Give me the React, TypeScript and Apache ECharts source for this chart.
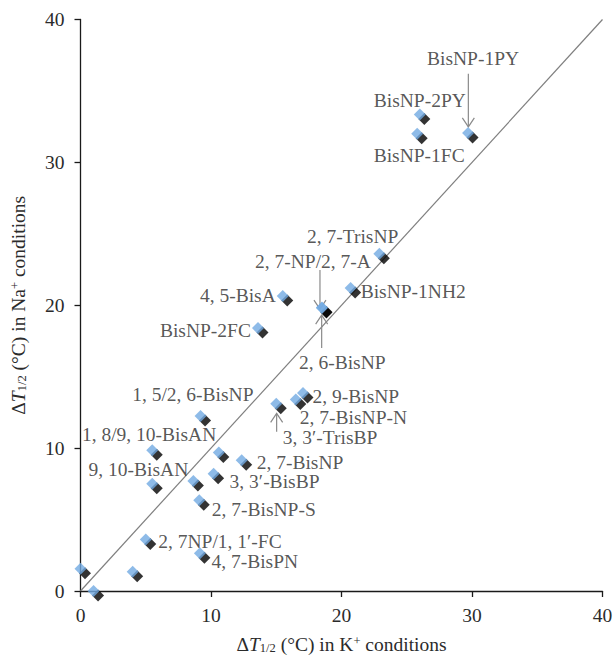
import React, { useEffect, useRef } from "react";
import * as echarts from "echarts";

// ΔT1/2 (°C) in K+ conditions (x) vs in Na+ conditions (y)
const names: string[] = [
  "BisNP-1PY", "BisNP-2PY", "BisNP-1FC", "2, 7-TrisNP", "2, 7-NP/2, 7-A", "2, 6-BisNP",
  "BisNP-1NH2", "4, 5-BisA", "BisNP-2FC", "1, 5/2, 6-BisNP", "1, 8/9, 10-BisAN", "9, 10-BisAN",
  "2, 7-BisNP", "3, 3\u2032-BisBP", "2, 7-BisNP-S", "2, 7NP/1, 1\u2032-FC", "4, 7-BisPN",
  "2, 9-BisNP", "2, 7-BisNP-N", "3, 3\u2032-TrisBP", "", "", "", "", "",
];
const kValues: number[] = [
  29.7, 26.0, 25.8, 22.9, 18.5, 18.5,
  20.7, 15.5, 13.6, 9.2, 5.5, 5.5,
  12.35, 10.2, 9.1, 5.0, 9.15,
  17.05, 16.5, 15.0, 10.6, 8.65, 0.0, 1.0, 4.0,
];
const naValues: number[] = [
  32.05, 33.35, 32.0, 23.6, 19.85, 19.8,
  21.2, 20.65, 18.4, 12.25, 9.85, 7.5,
  9.15, 8.2, 6.35, 3.6, 2.65,
  13.85, 13.4, 13.1, 9.7, 7.7, 1.55, 0.0, 1.35,
];

// label placement: [align, dx, dy] in px relative to the marker centre
const labelPlacement: Record<string, [string, number, number]> = {
  "BisNP-1PY": ["center", 5, -75],
  "BisNP-2PY": ["center", 0, -14],
  "BisNP-1FC": ["center", 2, 22],
  "2, 7-TrisNP": ["right", 19, -17],
  "2, 7-NP/2, 7-A": ["right", 49, -46],
  "2, 6-BisNP": ["left", -23, 54],
  "BisNP-1NH2": ["left", 10, 3],
  "4, 5-BisA": ["right", -7, 0],
  "BisNP-2FC": ["right", -7, 2],
  "1, 5/2, 6-BisNP": ["right", 53, -21],
  "1, 8/9, 10-BisAN": ["right", 64, -16],
  "9, 10-BisAN": ["right", 36, -14],
  "2, 7-BisNP": ["left", 15, 2],
  "3, 3\u2032-BisBP": ["left", 16, 8],
  "2, 7-BisNP-S": ["left", 12.5, 9],
  "2, 7NP/1, 1\u2032-FC": ["left", 12.5, 2],
  "4, 7-BisPN": ["left", 11.5, 8],
  "2, 9-BisNP": ["left", 9.5, 3.5],
  "2, 7-BisNP-N": ["left", 4, 18],
  "3, 3\u2032-TrisBP": ["left", 6.5, 34],
};

// annotation arrows: x, from y, to y (data units)
const arrowX: number[] = [29.72, 18.35, 18.48, 15.03];
const arrowFrom: number[] = [36.2, 22.46, 17.0, 11.15];
const arrowTo: number[] = [32.49, 19.73, 19.31, 12.43];

const xTicks: number[] = [0, 10, 20, 30, 40];
const diagonal: number[][] = [[0, 0], [40, 40]];

const FONT = "Liberation Serif, Times New Roman, serif";
const TXT = "#2b2b2b";

export default function App() {
  const ref = useRef<HTMLDivElement>(null);
  useEffect(() => {
    if (!ref.current) return;
    const chart = echarts.init(ref.current, undefined, { renderer: "svg" });
    const points = kValues.map((x, i) => [x, naValues[i]]);
    const blueData = points.map((p, i) => {
      const nm = names[i];
      const pl = labelPlacement[nm];
      return {
        value: p,
        name: nm,
        label: pl
          ? {
              show: true,
              formatter: nm,
              position: "inside",
              align: pl[0],
              verticalAlign: "middle",
              offset: [pl[1], pl[2]],
              color: TXT,
              fontFamily: FONT,
              fontSize: 19.5,
              lineHeight: 16,
            }
          : { show: false },
      };
    });
    const arrows = arrowX.map((x, i) => [x, arrowFrom[i], arrowTo[i]]);
    const axisName = "\u0394{i|T}{sub|1/2} (\u00b0C) in ";
    const rich = {
      i: { fontStyle: "italic", fontFamily: FONT, fontSize: 19.5, color: TXT, lineHeight: 20 },
      sub: { fontFamily: FONT, fontSize: 12.5, color: TXT, verticalAlign: "bottom", lineHeight: 20 },
      sup: { fontFamily: FONT, fontSize: 12.5, color: TXT, verticalAlign: "top", lineHeight: 20 },
    };
    const axisCommon = {
      type: "value",
      min: 0,
      max: 40,
      interval: 10,
      axisLine: { show: true, onZero: false, lineStyle: { color: "#1a1a1a", width: 1.3 } },
      axisTick: { show: true, length: 6, lineStyle: { color: "#1a1a1a", width: 1.3 } },
      splitLine: { show: false },
      axisLabel: { color: TXT, fontSize: 19.5, fontFamily: FONT },
      nameLocation: "middle",
      nameTextStyle: { fontFamily: FONT, fontSize: 19.5, color: TXT, lineHeight: 20, rich },
    };
    chart.setOption({
      animation: false,
      grid: { left: 80.5, right: 10.5, top: 19.5, bottom: 66, outerBoundsMode: "none", containLabel: false },
      xAxis: {
        ...axisCommon,
        axisLabel: { ...axisCommon.axisLabel, margin: 14, customValues: xTicks },
        name: axisName + "K{sup|+} conditions",
        nameGap: 43,
      },
      yAxis: {
        ...axisCommon,
        axisLabel: { ...axisCommon.axisLabel, margin: 16 },
        name: axisName + "Na{sup|+} conditions",
        nameGap: 52,
      },
      series: [
        {
          type: "line",
          data: diagonal,
          symbol: "none",
          lineStyle: { color: "#7f7f7f", width: 1.2 },
          silent: true,
          z: 1,
        },
        {
          type: "custom",
          data: arrows,
          encode: { x: 0, y: [1, 2] },
          silent: true,
          z: 2,
          renderItem: (params: any, api: any) => {
            const x = api.value(0);
            const p0 = api.coord([x, api.value(1)]);
            const p1 = api.coord([x, api.value(2)]);
            const dir = p1[1] > p0[1] ? 1 : -1;
            const st = { stroke: "#8a8a8a", lineWidth: 1.2, fill: "none" };
            return {
              type: "group",
              children: [
                { type: "line", shape: { x1: p0[0], y1: p0[1], x2: p1[0], y2: p1[1] }, style: st },
                {
                  type: "polyline",
                  shape: {
                    points: [
                      [p1[0] - 6, p1[1] - dir * 9],
                      [p1[0], p1[1]],
                      [p1[0] + 6, p1[1] - dir * 9],
                    ],
                  },
                  style: st,
                },
              ],
            };
          },
        },
        {
          type: "scatter",
          data: points,
          symbol: "diamond",
          symbolSize: 12,
          symbolOffset: [4.5, 4.5],
          itemStyle: { color: "#000000" },
          silent: true,
          z: 3,
        },
        {
          type: "scatter",
          data: blueData,
          symbol: "diamond",
          symbolSize: 12,
          itemStyle: { color: "#72aae2" },
          silent: true,
          z: 4,
        },
      ],
    });
    return () => chart.dispose();
  }, []);
  return (
    <div
      ref={ref}
      style={{ position: "fixed", left: 0, top: 0, width: 613, height: 657, background: "#fff" }}
    />
  );
}
